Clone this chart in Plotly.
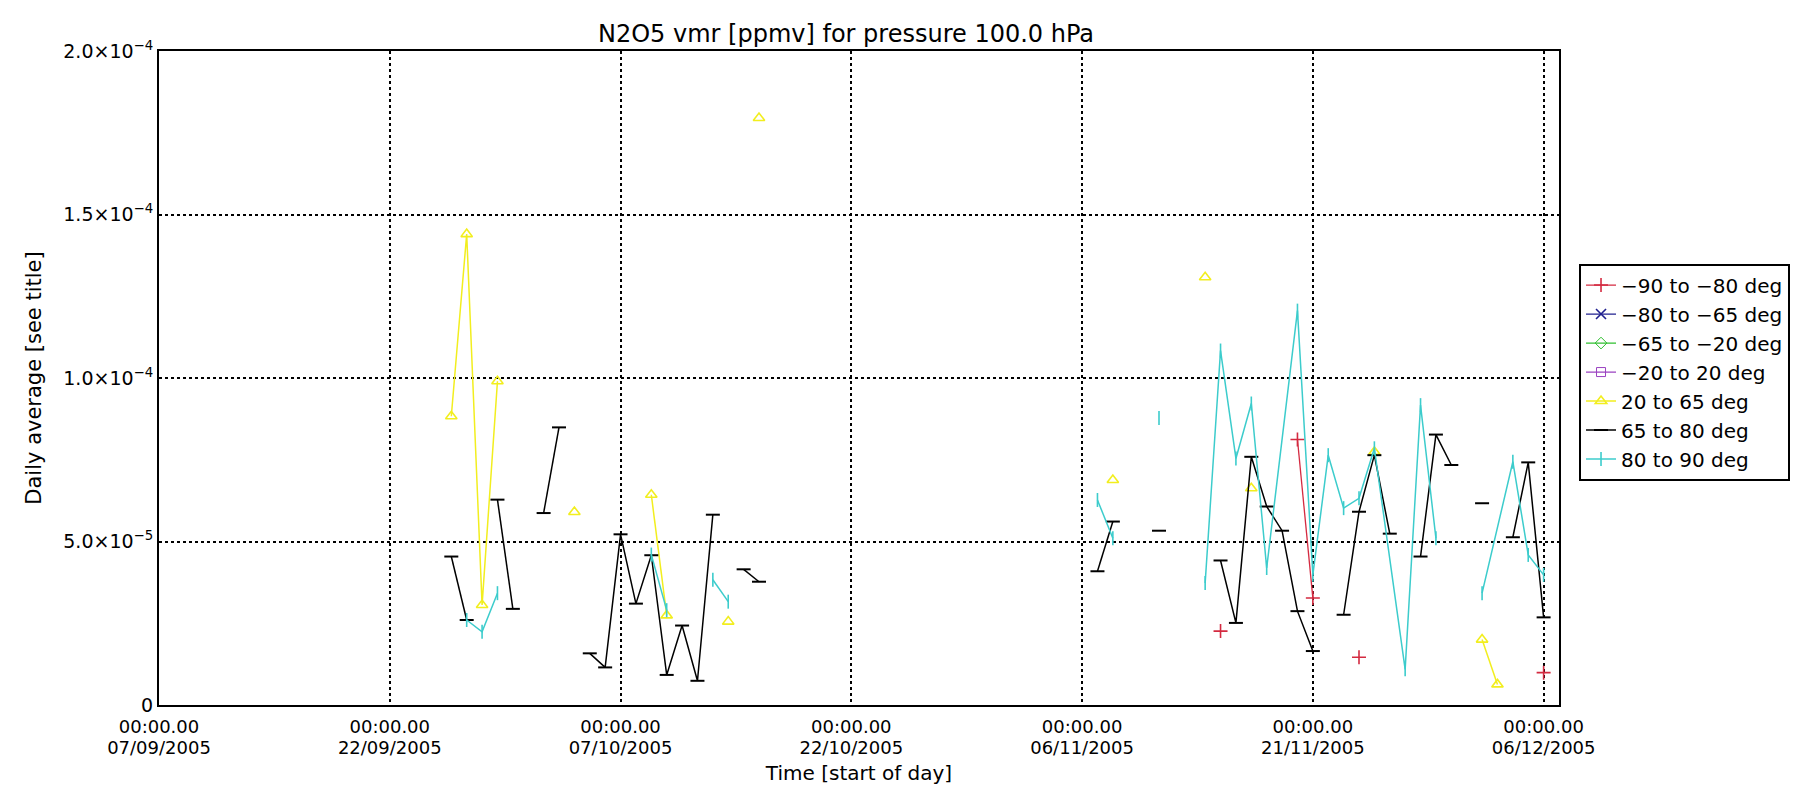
import plotly.graph_objects as go
from datetime import date, timedelta

START = date(2005, 9, 7)

# day offsets from 07/09/2005 (None = gap in the line), values in ppmv
red_days = [69, None, 74, 75, None, 78, None, 90]
red_vals = [2.26e-5, None, 8.12e-5, 3.27e-5, None, 1.46e-5, None, 0.99e-5]

yellow_days = [19, 20, 21, 22, None, 27, None, 32, 33, None, 37, None, 39, None,
               62, None, 68, None, 71, None, 79, None, 86, 87]
yellow_vals = [8.83e-5, 14.4e-5, 3.06e-5, 9.9e-5, None, 5.9e-5, None, 6.43e-5, 2.74e-5, None,
               2.55e-5, None, 17.95e-5, None, 6.88e-5, None, 13.08e-5, None, 6.63e-5, None,
               7.74e-5, None, 2.0e-5, 0.63e-5]

black_days = [19, 20, None, 22, 23, None, 25, 26, None, 28, 29, 30, 31, 32, 33, 34, 35, 36, None,
              38, 39, None, 61, 62, None, 65, None, 69, 70, 71, 72, 73, 74, 75, None,
              77, 78, 79, 80, None, 82, 83, 84, None, 86, None, 88, 89, 90]
black_vals = [4.54e-5, 2.6e-5, None, 6.28e-5, 2.94e-5, None, 5.87e-5, 8.49e-5, None,
              1.58e-5, 1.15e-5, 5.22e-5, 3.10e-5, 4.58e-5, 0.92e-5, 2.43e-5, 0.74e-5, 5.82e-5, None,
              4.15e-5, 3.77e-5, None, 4.09e-5, 5.61e-5, None, 5.33e-5, None,
              4.42e-5, 2.51e-5, 7.59e-5, 6.07e-5, 5.33e-5, 2.87e-5, 1.65e-5, None,
              2.76e-5, 5.91e-5, 7.64e-5, 5.24e-5, None, 4.54e-5, 8.27e-5, 7.34e-5, None,
              6.17e-5, None, 5.13e-5, 7.42e-5, 2.68e-5]

cyan_days = [20, 21, 22, None, 32, 33, None, 36, 37, None, 61, 62, None, 65, None,
             68, 69, 70, 71, 72, 74, 75, 76, 77, 78, 79, 81, 82, 83, None, 86, 88, 89, 90]
cyan_vals = [2.6e-5, 2.24e-5, 3.42e-5, None, 4.6e-5, 2.9e-5, None, 3.83e-5, 3.16e-5, None,
             6.27e-5, 5.10e-5, None, 8.78e-5, None,
             3.73e-5, 10.84e-5, 7.54e-5, 9.22e-5, 4.19e-5, 12.06e-5, 3.98e-5, 7.64e-5,
             6.02e-5, 6.32e-5, 7.85e-5, 1.09e-5, 9.17e-5, 5.1e-5, None,
             3.42e-5, 7.44e-5, 4.59e-5, 3.98e-5]

tick_days = [0, 15, 30, 45, 60, 75, 90]
y_ticks = [0, 5e-5, 1e-4, 1.5e-4, 2e-4]
y_ticktext = ['0', '5.0×10<sup>−5</sup>', '1.0×10<sup>−4</sup>',
              '1.5×10<sup>−4</sup>', '2.0×10<sup>−4</sup>']


def to_dates(days):
    return [START + timedelta(days=d) if d is not None else None for d in days]


FONT = 'DejaVu Sans'
X_RANGE = [START, START + timedelta(days=91)]
tick_dates = to_dates(tick_days)

fig = go.Figure()

fig.add_trace(go.Scatter(
    x=to_dates(red_days), y=red_vals, mode='lines+markers', name='−90 to −80 deg',
    line=dict(color='#d42a40', width=1.3),
    marker=dict(symbol='cross-thin', size=10, line=dict(color='#d42a40', width=1.6))
))
fig.add_trace(go.Scatter(
    x=[None], y=[None], mode='lines+markers', name='−80 to −65 deg',
    line=dict(color='#20208f', width=1.3),
    marker=dict(symbol='x-thin', size=10, line=dict(color='#20208f', width=1.6))
))
fig.add_trace(go.Scatter(
    x=[None], y=[None], mode='lines+markers', name='−65 to −20 deg',
    line=dict(color='#2fbf2f', width=1.3),
    marker=dict(symbol='diamond-open', size=9, color='#2fbf2f')
))
fig.add_trace(go.Scatter(
    x=[None], y=[None], mode='lines+markers', name='−20 to 20 deg',
    line=dict(color='#9a40c0', width=1.3),
    marker=dict(symbol='square-open', size=9, color='#9a40c0')
))
fig.add_trace(go.Scatter(
    x=to_dates(yellow_days), y=yellow_vals, mode='lines+markers', name='20 to 65 deg',
    line=dict(color='#f2ee1e', width=1.5),
    marker=dict(symbol='triangle-up-open', size=10, color='#f2ee1e', line=dict(width=1.6))
))
fig.add_trace(go.Scatter(
    x=to_dates(black_days), y=black_vals, mode='lines+markers', name='65 to 80 deg',
    line=dict(color='black', width=1.5),
    marker=dict(symbol='line-ew', size=10, line=dict(color='black', width=2))
))
fig.add_trace(go.Scatter(
    x=to_dates(cyan_days), y=cyan_vals, mode='lines+markers', name='80 to 90 deg',
    line=dict(color='#3ccccc', width=1.5),
    marker=dict(symbol='line-ns', size=10, line=dict(color='#3ccccc', width=1.6))
))
# carrier for the second row of x tick labels (dates)
fig.add_trace(go.Scatter(x=[START], y=[None], xaxis='x2', mode='lines',
                         showlegend=False, hoverinfo='skip'))

fig.update_layout(
    width=1810, height=787,
    margin=dict(l=151, r=259, t=43, b=90),
    paper_bgcolor='white', plot_bgcolor='white',
    font=dict(family=FONT, size=19, color='black'),
    title=dict(text='N2O5 vmr [ppmv] for pressure 100.0 hPa', x=0.463, xanchor='center',
               y=0.967, yanchor='middle', font=dict(size=24)),
    xaxis=dict(
        type='date', range=X_RANGE,
        tickvals=tick_dates,
        ticktext=['00:00.00'] * len(tick_dates),
        tickangle=0, tickfont=dict(size=18), ticklabelstandoff=4,
        showgrid=True, gridcolor='black', griddash='dot', gridwidth=1.5,
        showline=True, linecolor='black', linewidth=2, mirror=True,
        ticks='', zeroline=False, automargin=False,
        title=dict(text='Time [start of day]', standoff=30, font=dict(size=20)),
    ),
    xaxis2=dict(
        type='date', range=X_RANGE, overlaying='x', side='bottom', anchor='y',
        tickvals=tick_dates,
        ticktext=[d.strftime('%d/%m/%Y') for d in tick_dates],
        tickangle=0, tickfont=dict(size=18), ticklabelstandoff=30,
        showgrid=False, showline=False, ticks='', zeroline=False, automargin=False,
    ),
    yaxis=dict(
        range=[0, 2e-4],
        tickvals=y_ticks, ticktext=y_ticktext, tickfont=dict(size=19),
        showgrid=True, gridcolor='black', griddash='dot', gridwidth=1.5,
        showline=True, linecolor='black', linewidth=2, mirror=True,
        ticks='', zeroline=False, automargin=False,
        title=dict(text='Daily average [see title]', standoff=16, font=dict(size=21)),
    ),
    legend=dict(
        x=1.0143, xanchor='left', y=0.675, yanchor='top',
        bordercolor='black', borderwidth=2, bgcolor='white',
        font=dict(size=20), itemwidth=30, tracegroupgap=0,
    ),
    showlegend=True,
)

fig.write_html('out.html')
